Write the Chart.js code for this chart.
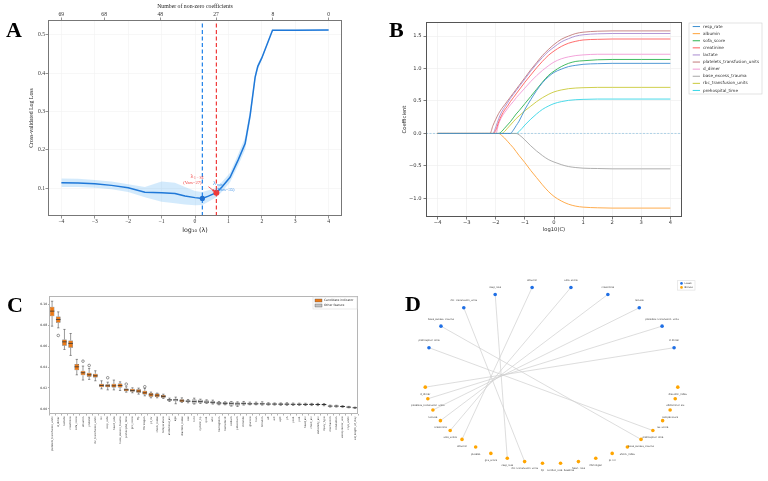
<!DOCTYPE html>
<html>
<head>
<meta charset="utf-8">
<script src="https://cdn.jsdelivr.net/npm/chart.js@4.4.0/dist/chart.umd.min.js"></script>
<style>
  html, body { margin: 0; padding: 0; background: #fff; }
  #wrap { position: relative; width: 768px; height: 481px; overflow: hidden; background: #fff; }
  canvas { position: absolute; }
  .tag { position: absolute; font-family: 'Liberation Serif', serif; font-weight: bold; font-size: 22px; line-height: 1; color: #000; }
</style>
</head>
<body>
<div id="wrap">
  <canvas id="lassoCvChart" width="384" height="240" style="left:0;top:0"></canvas>
  <canvas id="coefPathChart" width="384" height="240" style="left:384px;top:0"></canvas>
  <canvas id="importanceChart" width="384" height="241" style="left:0;top:240px"></canvas>
  <canvas id="overlapChart" width="384" height="241" style="left:384px;top:240px"></canvas>
  <div class="tag" style="left:6px;top:19px">A</div>
  <div class="tag" style="left:389px;top:19px">B</div>
  <div class="tag" style="left:7px;top:294px">C</div>
  <div class="tag" style="left:405px;top:293px">D</div>
</div>
<script>
// ---------- Panel A: cross-validated log loss along the lasso path ----------
const LOG_LAMBDA = [-4, -3.5, -3, -2.5, -2, -1.5, -1, -0.6, -0.3, 0, 0.22, 0.4, 0.64, 0.8, 1.05, 1.3, 1.5, 1.65, 1.8, 1.88, 2.0, 2.32, 3, 4];
const CV_LOSS = [0.114, 0.113, 0.111, 0.107, 0.101, 0.089, 0.088, 0.086, 0.079, 0.075, 0.073, 0.079, 0.088, 0.102, 0.128, 0.175, 0.216, 0.29, 0.39, 0.418, 0.44, 0.512, 0.512, 0.513];
const CV_LOW = [0.103, 0.103, 0.101, 0.097, 0.090, 0.076, 0.064, 0.060, 0.057, 0.055, 0.056, 0.064, 0.076, 0.090, 0.115, 0.160, 0.200, 0.275, 0.380, 0.410, 0.435, 0.510, 0.510, 0.510];
const CV_HIGH = [0.125, 0.124, 0.121, 0.117, 0.110, 0.103, 0.117, 0.114, 0.103, 0.092, 0.090, 0.094, 0.100, 0.115, 0.140, 0.190, 0.232, 0.305, 0.400, 0.425, 0.445, 0.514, 0.514, 0.515];
const A_X_TICKS = [-4, -3, -2, -1, 0, 1, 2, 3, 4];
const A_Y_TICKS = [0.1, 0.2, 0.3, 0.4, 0.5];
const TOP_TICK_POS = [-4, -2.72, -1.04, 0.63, 2.33, 4];
const TOP_TICK_LABELS = ['69', '68', '48', '27', '8', '0'];
const LAMBDA_MIN = 0.22, LOSS_MIN = 0.073, VARS_MIN = 35;
const LAMBDA_1SE = 0.64, LOSS_1SE = 0.088, VARS_1SE = 27;

// ---------- Panel B: coefficient paths ----------
const LOG_C = [-4, -2.2, -2.1, -2.0, -1.9, -1.8, -1.7, -1.6, -1.5, -1.4, -1.3, -1.2, -1.0, -0.8, -0.6, -0.4, -0.2, 0, 0.25, 0.5, 0.75, 1, 1.5, 2, 3, 4];
const COEF_RESP_RATE = [0, 0, 0, 0, 0, 0, 0, 0, 0, 0.05, 0.12, 0.19, 0.37, 0.52, 0.66, 0.78, 0.87, 0.94, 0.99, 1.03, 1.05, 1.065, 1.075, 1.08, 1.08, 1.08];
const COEF_ALBUMIN = [0, 0, 0, 0, 0, -0.03, -0.07, -0.12, -0.17, -0.22, -0.28, -0.34, -0.45, -0.57, -0.68, -0.79, -0.89, -0.97, -1.04, -1.09, -1.12, -1.135, -1.145, -1.15, -1.15, -1.15];
const COEF_SOFA = [0, 0, 0, 0, 0, 0.03, 0.08, 0.13, 0.18, 0.24, 0.30, 0.35, 0.46, 0.57, 0.68, 0.79, 0.89, 0.96, 1.03, 1.08, 1.11, 1.12, 1.135, 1.14, 1.14, 1.14];
const COEF_CREATININE = [0, 0, 0, 0.05, 0.18, 0.28, 0.36, 0.42, 0.49, 0.55, 0.61, 0.67, 0.79, 0.90, 1.01, 1.11, 1.20, 1.27, 1.34, 1.39, 1.42, 1.44, 1.45, 1.455, 1.455, 1.455];
const COEF_LACTATE = [0, 0, 0, 0.10, 0.23, 0.33, 0.40, 0.47, 0.54, 0.60, 0.66, 0.72, 0.84, 0.96, 1.07, 1.17, 1.26, 1.33, 1.41, 1.46, 1.50, 1.52, 1.535, 1.54, 1.54, 1.54];
const COEF_PLATELETS = [0, 0, 0.12, 0.22, 0.31, 0.38, 0.44, 0.50, 0.56, 0.62, 0.68, 0.74, 0.86, 0.98, 1.09, 1.20, 1.29, 1.37, 1.45, 1.50, 1.54, 1.56, 1.575, 1.58, 1.58, 1.58];
const COEF_D_DIMER = [0, 0, 0, 0, 0.15, 0.25, 0.32, 0.38, 0.44, 0.49, 0.55, 0.60, 0.70, 0.80, 0.89, 0.97, 1.04, 1.10, 1.15, 1.18, 1.20, 1.21, 1.22, 1.22, 1.22, 1.22];
const COEF_BASE_EXCESS = [0, 0, 0, 0, 0, 0, 0, 0, 0, 0, 0, -0.02, -0.10, -0.19, -0.27, -0.34, -0.40, -0.44, -0.48, -0.51, -0.525, -0.535, -0.54, -0.545, -0.545, -0.545];
const COEF_RBC = [0, 0, 0, 0, 0, 0, 0.03, 0.08, 0.13, 0.18, 0.23, 0.27, 0.35, 0.42, 0.49, 0.55, 0.60, 0.64, 0.67, 0.69, 0.70, 0.705, 0.71, 0.71, 0.71, 0.71];
const COEF_PREHOSPITAL = [0, 0, 0, 0, 0, 0, 0, 0, 0, 0, 0, 0.03, 0.13, 0.22, 0.30, 0.37, 0.42, 0.46, 0.49, 0.51, 0.52, 0.525, 0.53, 0.53, 0.53, 0.53];
const B_NAMES = ['resp_rate', 'albumin', 'sofa_score', 'creatinine', 'lactate', 'platelets_transfusion_units', 'd_dimer', 'base_excess_trauma', 'rbc_transfusion_units', 'prehospital_time'];
const B_X_TICKS = [-4, -3, -2, -1, 0, 1, 2, 3, 4];
const B_Y_TICKS = [-1.0, -0.5, 0, 0.5, 1.0, 1.5];

// ---------- Panel C: feature importance boxes ----------
const C_FEATURES = ['platelets_transfusion_units', 'd_dimer', 'lactate', 'creatinine', 'sofa_score', 'albumin', 'platelet',
  'rbc_transfusion_units', 'iss', 'resp_rate', 'heart_rate', 'base_excess_trauma', 'prehospital_time', 'gcs_score', 'ffp',
  'fibrinogen', 'pt_inr', 'shock_index', 'temperature', 'abdominal_ais', 'age', 'diastolic_index', 'sex', 'bmi', 'systolic_bp',
  'spo2', 'wbc', 'hemoglobin', 'hematocrit', 'sodium', 'potassium', 'chloride', 'glucose', 'bun', 'bilirubin', 'alt', 'ast',
  'aptt', 'ph', 'pco2', 'po2', 'head_ais', 'chest_ais', 'extremity_ais', 'injury_type', 'mechanism', 'intubation',
  'vasopressor_use', 'cryo_units', 'ed_length_of_stay'];
const C_IS_CANDIDATE = [1, 1, 1, 1, 1, 1, 1, 1, 1, 1, 1, 1, 1, 1, 1, 1, 1, 1, 1, 0, 0, 1, 0, 0, 0,
  0, 0, 0, 0, 0, 0, 0, 0, 0, 0, 0, 0, 0, 0, 0, 0, 0, 0, 0, 0, 0, 0, 0, 0, 0];
const C_WHISK_LO = [0.0791, 0.0775, 0.0568, 0.0511, 0.0325, 0.0275, 0.0281, 0.0268, 0.0191, 0.0181, 0.0181, 0.0175, 0.0159, 0.0153, 0.0140,
  0.0124, 0.0105, 0.0105, 0.0099, 0.0070, 0.0048, 0.0061, 0.0057, 0.0045, 0.0051, 0.0051, 0.0045, 0.0038, 0.0038, 0.0025,
  0.0022, 0.0035, 0.0038, 0.0038, 0.0035, 0.0035, 0.0035, 0.0033, 0.0033, 0.0032, 0.0032, 0.0031, 0.0031, 0.0030, 0.0029,
  0.0016, 0.0016, 0.0014, 0.0009, 0.0004];
const C_Q1 = [0.0887, 0.0823, 0.0603, 0.0584, 0.0370, 0.0320, 0.0307, 0.0300, 0.0207, 0.0207, 0.0204, 0.0204, 0.0169, 0.0163, 0.0153,
  0.0137, 0.0115, 0.0112, 0.0105, 0.0077, 0.0073, 0.0064, 0.0064, 0.0051, 0.0057, 0.0054, 0.0051, 0.0042, 0.0042, 0.0032,
  0.0032, 0.0042, 0.0042, 0.0042, 0.0042, 0.0040, 0.0040, 0.0039, 0.0039, 0.0038, 0.0038, 0.0037, 0.0037, 0.0036, 0.0035,
  0.0021, 0.0021, 0.0018, 0.0012, 0.0007];
const C_MEDIAN = [0.0935, 0.0855, 0.0641, 0.0626, 0.0402, 0.0345, 0.0326, 0.0316, 0.0223, 0.0220, 0.0220, 0.0223, 0.0182, 0.0175, 0.0169,
  0.0153, 0.0134, 0.0130, 0.0118, 0.0086, 0.0086, 0.0077, 0.0073, 0.0070, 0.0070, 0.0064, 0.0061, 0.0054, 0.0051, 0.0051,
  0.0048, 0.0051, 0.0048, 0.0048, 0.0048, 0.0045, 0.0045, 0.0044, 0.0044, 0.0043, 0.0043, 0.0042, 0.0042, 0.0041, 0.0040,
  0.0026, 0.0026, 0.0022, 0.0016, 0.0010];
const C_Q3 = [0.0976, 0.0884, 0.0664, 0.0655, 0.0428, 0.0364, 0.0345, 0.0336, 0.0239, 0.0236, 0.0239, 0.0242, 0.0195, 0.0192, 0.0188,
  0.0172, 0.0150, 0.0147, 0.0131, 0.0092, 0.0096, 0.0092, 0.0080, 0.0089, 0.0086, 0.0080, 0.0073, 0.0064, 0.0064, 0.0067,
  0.0061, 0.0061, 0.0058, 0.0058, 0.0058, 0.0051, 0.0050, 0.0050, 0.0050, 0.0049, 0.0049, 0.0048, 0.0047, 0.0046, 0.0045,
  0.0030, 0.0030, 0.0026, 0.0020, 0.0013];
const C_WHISK_HI = [0.1030, 0.0928, 0.0760, 0.0721, 0.0473, 0.0409, 0.0387, 0.0364, 0.0268, 0.0255, 0.0275, 0.0258, 0.0211, 0.0201, 0.0198,
  0.0195, 0.0160, 0.0150, 0.0140, 0.0102, 0.0112, 0.0105, 0.0089, 0.0102, 0.0092, 0.0086, 0.0083, 0.0070, 0.0067, 0.0070,
  0.0067, 0.0070, 0.0064, 0.0064, 0.0067, 0.0058, 0.0056, 0.0056, 0.0058, 0.0055, 0.0054, 0.0053, 0.0052, 0.0052, 0.0050,
  0.0035, 0.0034, 0.0030, 0.0023, 0.0016];
const C_OUTLIER_IDX = [1, 5, 6, 9, 12, 15];
const C_OUTLIER_VAL = [0.0702, 0.0456, 0.0415, 0.0297, 0.0236, 0.0211];
const C_Y_TICKS = [0, 0.02, 0.04, 0.06, 0.08, 0.10];

// ---------- Panel D: Lasso vs Boruta overlap ----------
const LASSO_FEATURES = ['prehospital_time', 'base_excess_trauma', 'rbc_transfusion_units', 'resp_rate', 'albumin',
  'sofa_score', 'creatinine', 'lactate', 'platelets_transfusion_units', 'd_dimer'];
const BORUTA_FEATURES = ['d_dimer', 'platelets_transfusion_units', 'lactate', 'creatinine', 'sofa_score', 'albumin', 'platelet',
  'gcs_score', 'resp_rate', 'rbc_transfusion_units', 'ffp', 'cardiac_rate_baseline', 'heart_rate', 'fibrinogen', 'pt_inr',
  'shock_index', 'base_excess_trauma', 'prehospital_time', 'iss_score', 'temperature', 'abdominal_ais', 'diastolic_index'];

// ---------- shared helpers ----------
const SERIF = 'Liberation Serif';
const SANS = 'DejaVu Sans';
const minus = v => (v < 0 ? '\u2212' : '') + Math.abs(v);
const fixedTicks = values => scale => { scale.ticks = values.map(value => ({ value })); };
const fixWidth = w => scale => { scale.width = w; };
const fixHeight = h => scale => { scale.height = h; };

// Draws a box around the plotting area
const framePlugin = {
  id: 'frame',
  afterDraw(chart, args, opts) {
    const { ctx, chartArea: a } = chart;
    ctx.save();
    ctx.strokeStyle = opts.color || '#666';
    ctx.lineWidth = opts.width || 1;
    ctx.strokeRect(Math.round(a.left) + 0.5, Math.round(a.top) + 0.5,
      Math.round(a.right - a.left) - 1, Math.round(a.bottom - a.top) - 1);
    ctx.restore();
  }
};

// Small framed legend, drawn relative to the chart area
const boxLegendPlugin = {
  id: 'boxLegend',
  afterDraw(chart, args, o) {
    if (!o.items) return;
    const { ctx, chartArea: a } = chart;
    const x = o.fromRight ? a.right + o.dx : a.left + o.dx;
    const y = a.top + o.dy;
    const h = o.items.length * o.rowH + o.pad * 2;
    ctx.save();
    ctx.fillStyle = 'rgba(255,255,255,0.9)';
    ctx.fillRect(x, y, o.w, h);
    ctx.strokeStyle = o.border || '#ccc';
    ctx.lineWidth = 0.6;
    ctx.strokeRect(x, y, o.w, h);
    ctx.font = o.fontSize + 'px "' + SANS + '"';
    ctx.textBaseline = 'middle';
    o.items.forEach((it, i) => {
      const cy = y + o.pad + o.rowH * (i + 0.5);
      if (o.swatch === 'line') {
        ctx.strokeStyle = it.color;
        ctx.lineWidth = 1;
        ctx.beginPath();
        ctx.moveTo(x + o.sx, cy);
        ctx.lineTo(x + o.sx + o.sw, cy);
        ctx.stroke();
      } else if (o.swatch === 'rect') {
        ctx.fillStyle = it.color;
        ctx.fillRect(x + o.sx, cy - 1.5, o.sw, 3);
        ctx.strokeStyle = '#555';
        ctx.lineWidth = 0.4;
        ctx.strokeRect(x + o.sx, cy - 1.5, o.sw, 3);
      } else {
        ctx.fillStyle = it.color;
        ctx.beginPath();
        ctx.arc(x + o.sx, cy, o.sw, 0, Math.PI * 2);
        ctx.fill();
      }
      ctx.fillStyle = '#333';
      ctx.fillText(it.label, x + o.tx, cy);
    });
    ctx.restore();
  }
};

/**
 * Panel A annotations: lambda labels and the arrow to the 1-SE point
 */
const lassoNotesPlugin = {
  id: 'lassoNotes',
  afterDatasetsDraw(chart) {
    const { ctx, scales: { x, y } } = chart;
    const rx = x.getPixelForValue(LAMBDA_1SE);
    const ry = y.getPixelForValue(LOSS_1SE);
    ctx.save();
    ctx.textBaseline = 'alphabetic';
    // lambda 1-SE label (red)
    ctx.fillStyle = '#f03a3a';
    ctx.font = '6px "' + SERIF + '"';
    ctx.textAlign = 'left';
    ctx.fillText('\u03bb', rx - 26, ry - 15);
    ctx.font = '3.6px "' + SERIF + '"';
    ctx.fillText('1 \u2212 SE', rx - 22.5, ry - 14);
    ctx.font = '4.6px "' + SERIF + '"';
    ctx.textAlign = 'center';
    ctx.fillText('(Vars=' + VARS_1SE + ')', rx - 24, ry - 8.5);
    // lambda min label (blue)
    ctx.fillStyle = '#3a8ee6';
    ctx.font = '6px "' + SERIF + '"';
    ctx.textAlign = 'left';
    ctx.fillText('\u03bb', rx - 3.5, ry - 8);
    ctx.font = '3.6px "' + SERIF + '"';
    ctx.fillText('min', rx + 0.5, ry - 7);
    ctx.font = '4.6px "' + SERIF + '"';
    ctx.textAlign = 'center';
    ctx.fillText('(Vars=' + VARS_MIN + ')', rx + 9, ry - 1.5);
    // arrow
    ctx.strokeStyle = '#f03a3a';
    ctx.fillStyle = '#f03a3a';
    ctx.lineWidth = 0.8;
    const x0 = rx - 8, y0 = ry - 6, x1 = rx - 1.5, y1 = ry - 1;
    ctx.beginPath();
    ctx.moveTo(x0, y0);
    ctx.lineTo(x1, y1);
    ctx.stroke();
    const ang = Math.atan2(y1 - y0, x1 - x0);
    ctx.beginPath();
    ctx.moveTo(x1, y1);
    ctx.lineTo(x1 - 3 * Math.cos(ang - 0.45), y1 - 3 * Math.sin(ang - 0.45));
    ctx.lineTo(x1 - 3 * Math.cos(ang + 0.45), y1 - 3 * Math.sin(ang + 0.45));
    ctx.closePath();
    ctx.fill();
    ctx.restore();
  }
};

/**
 * Panel B: dashed reference line at zero
 */
const zeroLinePlugin = {
  id: 'zeroLine',
  beforeDatasetsDraw(chart) {
    const { ctx, chartArea: a, scales: { y } } = chart;
    const py = y.getPixelForValue(0);
    ctx.save();
    ctx.strokeStyle = '#9cc8e2';
    ctx.lineWidth = 0.8;
    ctx.setLineDash([2, 1.5]);
    ctx.beginPath();
    ctx.moveTo(a.left, py);
    ctx.lineTo(a.right, py);
    ctx.stroke();
    ctx.restore();
  }
};

/**
 * Panel C: whiskers, medians and outliers on top of the IQR bars
 */
const boxWhiskerPlugin = {
  id: 'boxWhisker',
  afterDatasetsDraw(chart) {
    const { ctx, scales: { y } } = chart;
    const meta = chart.getDatasetMeta(0);
    ctx.save();
    ctx.strokeStyle = '#333';
    meta.data.forEach((bar, i) => {
      const cx = bar.x;
      const half = bar.width / 2;
      const cap = half * 0.5;
      const yLo = y.getPixelForValue(C_WHISK_LO[i]);
      const yHi = y.getPixelForValue(C_WHISK_HI[i]);
      const yQ1 = y.getPixelForValue(C_Q1[i]);
      const yQ3 = y.getPixelForValue(C_Q3[i]);
      const yMed = y.getPixelForValue(C_MEDIAN[i]);
      ctx.lineWidth = 0.5;
      ctx.beginPath();
      ctx.moveTo(cx, yQ3); ctx.lineTo(cx, yHi);
      ctx.moveTo(cx, yQ1); ctx.lineTo(cx, yLo);
      ctx.moveTo(cx - cap, yHi); ctx.lineTo(cx + cap, yHi);
      ctx.moveTo(cx - cap, yLo); ctx.lineTo(cx + cap, yLo);
      ctx.stroke();
      ctx.lineWidth = 0.8;
      ctx.beginPath();
      ctx.moveTo(cx - half, yMed); ctx.lineTo(cx + half, yMed);
      ctx.stroke();
    });
    ctx.lineWidth = 0.5;
    C_OUTLIER_IDX.forEach((idx, k) => {
      const bar = meta.data[idx];
      ctx.beginPath();
      ctx.arc(bar.x, y.getPixelForValue(C_OUTLIER_VAL[k]), 1.3, 0, Math.PI * 2);
      ctx.stroke();
    });
    ctx.restore();
  }
};

/**
 * Panel D: feature names next to every node
 */
const nodeLabelPlugin = {
  id: 'nodeLabels',
  afterDatasetsDraw(chart) {
    const { ctx } = chart;
    ctx.save();
    ctx.font = '2.5px "' + SANS + '"';
    ctx.fillStyle = '#444';
    ctx.textAlign = 'center';
    ctx.textBaseline = 'middle';
    chart.data.datasets.forEach((ds, di) => {
      if (!ds.nodeNames) return;
      chart.getDatasetMeta(di).data.forEach((pt, i) => {
        ctx.fillText(ds.nodeNames[i], pt.x, pt.y + ds.labelOffset);
      });
    });
    ctx.restore();
  }
};

/**
 * Panel A: cross-validated log loss vs log10(lambda)
 */
function createLassoCvChart() {
  const ctx = document.getElementById('lassoCvChart').getContext('2d');
  const yMin = 0.027, yMax = 0.539;
  const pts = ys => LOG_LAMBDA.map((x, i) => ({ x, y: ys[i] }));
  const tickFont = { family: SERIF, size: 5.6 };
  return new Chart(ctx, {
    type: 'line',
    data: {
      datasets: [
        { data: pts(CV_LOW), borderWidth: 0, pointRadius: 0, fill: false, order: 4 },
        { data: pts(CV_HIGH), borderWidth: 0, pointRadius: 0, fill: '-1', backgroundColor: 'rgba(120,190,245,0.33)', order: 4 },
        { data: pts(CV_LOSS), borderColor: '#1f78d8', borderWidth: 1.5, pointRadius: 0, tension: 0, order: 2 },
        { data: [{ x: LAMBDA_MIN, y: yMin }, { x: LAMBDA_MIN, y: yMax }], borderColor: '#1f80e8', borderWidth: 1.2, borderDash: [4, 2.5], pointRadius: 0, order: 3 },
        { data: [{ x: LAMBDA_1SE, y: yMin }, { x: LAMBDA_1SE, y: yMax }], borderColor: '#f03a3a', borderWidth: 1.2, borderDash: [4, 2.5], pointRadius: 0, order: 3 },
        { data: [{ x: LAMBDA_MIN, y: LOSS_MIN }], showLine: false, pointRadius: 2.6, pointBackgroundColor: '#1f70d0', pointBorderWidth: 0, order: 1 },
        { data: [{ x: LAMBDA_1SE, y: LOSS_1SE }], showLine: false, pointRadius: 3, pointBackgroundColor: '#f03a3a', pointBorderWidth: 0, order: 1 }
      ]
    },
    options: {
      responsive: false,
      animation: false,
      devicePixelRatio: 1,
      layout: { padding: { left: 0, right: 42, top: 0, bottom: 0 } },
      plugins: { legend: { display: false }, tooltip: { enabled: false }, frame: { color: '#777', width: 1 } },
      scales: {
        x: {
          type: 'linear', min: -4.4, max: 4.4,
          afterBuildTicks: fixedTicks(A_X_TICKS), afterFit: fixHeight(24),
          ticks: { font: tickFont, color: '#333', padding: 0, autoSkip: false, maxRotation: 0, callback: v => minus(v) },
          grid: { color: '#f1f1f1', lineWidth: 0.6, tickLength: 2.5, tickColor: '#666', tickWidth: 0.7 },
          border: { display: false },
          title: { display: true, text: 'log\u2081\u2080 (\u03bb)', font: { family: SANS, size: 6.4 }, color: '#222', padding: { top: 0, bottom: 6 } }
        },
        x2: {
          type: 'linear', position: 'top', min: -4.4, max: 4.4,
          afterBuildTicks: fixedTicks(TOP_TICK_POS), afterFit: fixHeight(20),
          ticks: { font: tickFont, color: '#333', padding: 0, autoSkip: false, maxRotation: 0, callback: (v, i) => TOP_TICK_LABELS[i] },
          grid: { drawOnChartArea: false, tickLength: 2.5, tickColor: '#666', tickWidth: 0.7 },
          border: { display: false },
          title: { display: true, text: 'Number of non-zero coefficients', font: { family: SERIF, size: 5.8 }, color: '#222', padding: { top: 3.4, bottom: 0 } }
        },
        y: {
          min: yMin, max: yMax,
          afterBuildTicks: fixedTicks(A_Y_TICKS), afterFit: fixWidth(48),
          ticks: { font: tickFont, color: '#333', padding: 0.5, callback: v => v.toFixed(1) },
          grid: { color: '#f1f1f1', lineWidth: 0.6, tickLength: 2.5, tickColor: '#666', tickWidth: 0.7 },
          border: { display: false },
          title: { display: true, text: 'Cross-validated Log Loss', font: { family: SERIF, size: 5.8 }, color: '#222', padding: { top: 28 } }
        }
      }
    },
    plugins: [framePlugin, lassoNotesPlugin]
  });
}

/**
 * Panel B: coefficient paths vs log10(C)
 */
function createCoefPathChart() {
  const ctx = document.getElementById('coefPathChart').getContext('2d');
  const series = [COEF_RESP_RATE, COEF_ALBUMIN, COEF_SOFA, COEF_CREATININE, COEF_LACTATE,
    COEF_PLATELETS, COEF_D_DIMER, COEF_BASE_EXCESS, COEF_RBC, COEF_PREHOSPITAL];
  const colors = ['#3d8fd0', '#ffa33a', '#2fb352', '#ff5c5c', '#a98bd0', '#c27a7a', '#f29ad6', '#a6a6a6', '#c9c93a', '#38d6e6'];
  const tickFont = { family: SANS, size: 5.2 };
  return new Chart(ctx, {
    type: 'line',
    data: {
      datasets: series.map((ys, k) => ({
        label: B_NAMES[k],
        data: LOG_C.map((x, i) => ({ x, y: ys[i] })),
        borderColor: colors[k],
        borderWidth: 0.9,
        pointRadius: 0,
        cubicInterpolationMode: 'monotone'
      }))
    },
    options: {
      responsive: false,
      animation: false,
      devicePixelRatio: 1,
      layout: { padding: { left: 0, right: 86, top: 22, bottom: 0 } },
      plugins: {
        legend: { display: false }, tooltip: { enabled: false },
        frame: { color: '#555', width: 1 },
        boxLegend: {
          items: B_NAMES.map((label, k) => ({ label, color: colors[k] })),
          fromRight: true, dx: 7, dy: 1, w: 73, rowH: 7.1, pad: 0,
          swatch: 'line', sx: 3.7, sw: 7.3, tx: 14, fontSize: 4.2, border: '#d0d0d0'
        }
      },
      scales: {
        x: {
          type: 'linear', min: -4.4, max: 4.4,
          afterBuildTicks: fixedTicks(B_X_TICKS), afterFit: fixHeight(23),
          ticks: { font: tickFont, color: '#333', padding: 0, autoSkip: false, maxRotation: 0, callback: v => minus(v) },
          grid: { color: '#ececec', lineWidth: 0.6, tickLength: 2.5, tickColor: '#444', tickWidth: 0.7 },
          border: { display: false },
          title: { display: true, text: 'log10(C)', font: { family: SANS, size: 5.2 }, color: '#222', padding: { top: 0, bottom: 6.8 } }
        },
        y: {
          min: -1.287, max: 1.717,
          afterBuildTicks: fixedTicks(B_Y_TICKS), afterFit: fixWidth(42),
          ticks: { font: tickFont, color: '#333', padding: 2, callback: v => minus(Number(v.toFixed(1))).replace(/^(\u2212?\d)$/, '$1.0') },
          grid: { color: '#ececec', lineWidth: 0.6, tickLength: 2.5, tickColor: '#444', tickWidth: 0.7 },
          border: { display: false },
          title: { display: true, text: 'Coefficient', font: { family: SANS, size: 5.2 }, color: '#222', padding: { top: 17.5 } }
        }
      }
    },
    plugins: [zeroLinePlugin, framePlugin, boxLegendPlugin]
  });
}

/**
 * Panel C: importance box plot (IQR as floating bars)
 */
function createImportanceChart() {
  const ctx = document.getElementById('importanceChart').getContext('2d');
  const orange = '#ec7a17', grey = '#c4c4c4';
  return new Chart(ctx, {
    type: 'bar',
    data: {
      labels: C_FEATURES,
      datasets: [{
        data: C_Q1.map((q, i) => [q, C_Q3[i]]),
        backgroundColor: C_IS_CANDIDATE.map(c => c ? orange : grey),
        borderColor: '#333',
        borderWidth: 0.5,
        borderSkipped: false,
        barPercentage: 0.75,
        categoryPercentage: 1
      }]
    },
    options: {
      responsive: false,
      animation: false,
      devicePixelRatio: 1,
      layout: { padding: { left: 0, right: 26, top: 56, bottom: 0 } },
      plugins: {
        legend: { display: false }, tooltip: { enabled: false },
        frame: { color: '#b5b5b5', width: 1 },
        boxLegend: {
          items: [{ label: 'Candidate indicator', color: orange }, { label: 'Other feature', color: grey }],
          fromRight: true, dx: -45, dy: 1, w: 44, rowH: 5, pad: 1,
          swatch: 'rect', sx: 2, sw: 7, tx: 11, fontSize: 3, border: '#dddddd'
        }
      },
      scales: {
        x: {
          afterFit: fixHeight(67),
          ticks: { font: { family: SANS, size: 2.6 }, color: '#333', padding: 1, autoSkip: false, minRotation: 90, maxRotation: 90 },
          grid: { drawOnChartArea: false, tickLength: 1.5, tickColor: '#666', tickWidth: 0.5 },
          border: { display: false }
        },
        y: {
          min: -0.005, max: 0.108,
          afterBuildTicks: fixedTicks(C_Y_TICKS), afterFit: fixWidth(49),
          ticks: { font: { family: SANS, size: 3.1 }, color: '#333', padding: 0.8, callback: v => v.toFixed(2) },
          grid: { drawOnChartArea: false, tickLength: 1, tickColor: '#666', tickWidth: 0.5 },
          border: { display: false }
        }
      }
    },
    plugins: [framePlugin, boxWhiskerPlugin, boxLegendPlugin]
  });
}

/**
 * Panel D: circular layout, Lasso features on the upper arc, Boruta on the lower arc
 */
function createOverlapChart() {
  const ctx = document.getElementById('overlapChart').getContext('2d');
  const blue = '#1f6fe5', orange = '#ffa500';
  const upper = { cy: 0.11, rx: 0.99, ry: 0.75 };
  const lower = { cy: -0.12, rx: 1.01, ry: 0.85 };
  const deg = Math.PI / 180;
  const upStep = 180 / LASSO_FEATURES.length;
  const lowStep = 180 / BORUTA_FEATURES.length;
  const lassoPts = LASSO_FEATURES.map((_, i) => {
    const a = (180 - upStep / 2 - i * upStep) * deg;
    return { x: upper.rx * Math.cos(a), y: upper.cy + upper.ry * Math.sin(a) };
  });
  const borutaPts = BORUTA_FEATURES.map((_, j) => {
    const a = (180 + lowStep / 2 + j * lowStep) * deg;
    return { x: lower.rx * Math.cos(a), y: lower.cy + lower.ry * Math.sin(a) };
  });
  const edges = LASSO_FEATURES.map((name, i) => ({
    data: [lassoPts[i], borutaPts[BORUTA_FEATURES.indexOf(name)]],
    showLine: true, borderColor: '#cfcfcf', borderWidth: 0.7, pointRadius: 0, order: 2
  }));
  return new Chart(ctx, {
    type: 'scatter',
    data: {
      datasets: [
        { label: 'Lasso', data: lassoPts, nodeNames: LASSO_FEATURES, labelOffset: -7, pointRadius: 1.8, pointBackgroundColor: blue, pointBorderWidth: 0, order: 1 },
        { label: 'Boruta', data: borutaPts, nodeNames: BORUTA_FEATURES, labelOffset: 7, pointRadius: 1.8, pointBackgroundColor: orange, pointBorderWidth: 0, order: 1 },
        ...edges
      ]
    },
    options: {
      responsive: false,
      animation: false,
      devicePixelRatio: 1,
      layout: { padding: 0 },
      plugins: {
        legend: { display: false }, tooltip: { enabled: false },
        boxLegend: {
          items: [{ label: 'Lasso', color: blue }, { label: 'Boruta', color: orange }],
          fromRight: false, dx: 289.5, dy: 36.7, w: 17.5, rowH: 4, pad: 0.7,
          swatch: 'dot', sx: 4, sw: 1.3, tx: 7, fontSize: 2.5, border: '#dddddd'
        }
      },
      scales: {
        x: { type: 'linear', display: false, min: -1.3047, max: 1.6953 },
        y: { type: 'linear', display: false, min: -1.11, max: 1.30 }
      }
    },
    plugins: [nodeLabelPlugin, boxLegendPlugin]
  });
}

createLassoCvChart();
createCoefPathChart();
createImportanceChart();
createOverlapChart();
</script>
</body>
</html>
